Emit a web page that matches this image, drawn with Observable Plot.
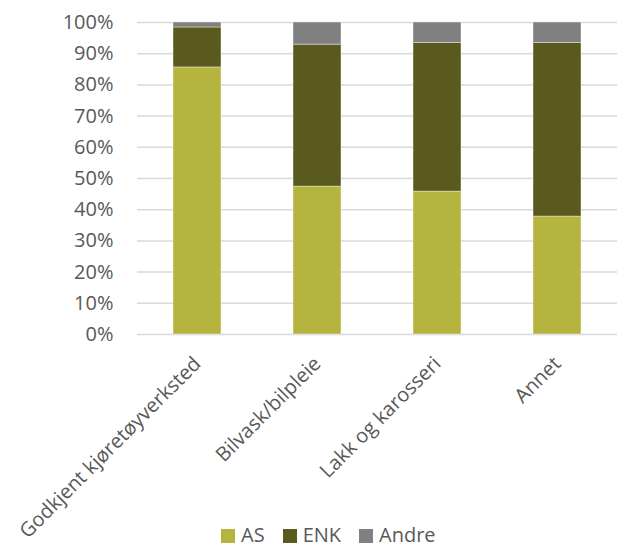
<!DOCTYPE html>
<html>
<head>
<meta charset="utf-8">
<script src="https://cdn.jsdelivr.net/npm/d3@7"></script>
<script src="https://cdn.jsdelivr.net/npm/@observablehq/plot@0.6"></script>
<style>
  body { margin: 0; background: #fff; font-family: "Open Sans", sans-serif; position: relative; }
  #chart svg { display: block; }
  #legend { position: absolute; left: 221px; top: 521px; display: flex; align-items: center; font-size: 20px; color: #595959; }
  #legend .item { display: flex; align-items: center; margin-right: 18px; }
  #legend .sw { width: 14px; height: 14px; margin-right: 6px; margin-top: 2px; }
</style>
</head>
<body>
<div id="chart"></div>
<div id="legend"></div>
<script>
const categories = ["Godkjent kjøretøyverksted", "Bilvask/bilpleie", "Lakk og karosseri", "Annet"];
const seriesNames = ["AS", "ENK", "Andre"];
const AS = [85.6, 47.4, 45.8, 37.8];
const ENK = [12.8, 45.5, 47.6, 55.6];
const Andre = [1.6, 7.1, 6.6, 6.6];
const yTicks = [0, 10, 20, 30, 40, 50, 60, 70, 80, 90, 100];
const colors = ["#b5b43e", "#5a5a1e", "#808080"];

const seriesValues = [AS, ENK, Andre];
const data = [];
seriesNames.forEach((s, si) => categories.forEach((c, ci) => data.push({category: c, series: s, value: seriesValues[si][ci]})));

const chart = Plot.plot({
  width: 617,
  height: 549,
  marginTop: 22,
  marginBottom: 215,
  marginLeft: 137,
  marginRight: 0,
  style: {fontFamily: "Open Sans, sans-serif", fontSize: "20px", color: "#595959", overflow: "visible"},
  x: {domain: categories, paddingInner: 0.6, paddingOuter: 0.3, label: null},
  y: {domain: [0, 100], label: null},
  color: {domain: seriesNames, range: colors},
  marks: [
    Plot.ruleY(yTicks, {stroke: "#d9d9d9", strokeWidth: 1.5}),
    Plot.barY(data, {x: "category", y: "value", fill: "series", order: seriesNames, stroke: "#ffffff", strokeWidth: 0.8, strokeOpacity: 0.5}),
    Plot.axisY({ticks: yTicks, tickFormat: d => d + "%", tickSize: 0, tickPadding: 24, fontSize: 20, fill: "#595959"}),
    Plot.axisX({tickSize: 0, tickRotate: -45, tickPadding: 26, fontSize: 20, fill: "#595959"})
  ]
});
document.getElementById("chart").appendChild(chart);

const legend = document.getElementById("legend");
seriesNames.forEach((s, i) => {
  const item = document.createElement("div");
  item.className = "item";
  const sw = document.createElement("div");
  sw.className = "sw";
  sw.style.background = colors[i];
  const t = document.createElement("span");
  t.textContent = s;
  item.appendChild(sw);
  item.appendChild(t);
  legend.appendChild(item);
});
</script>
</body>
</html>
